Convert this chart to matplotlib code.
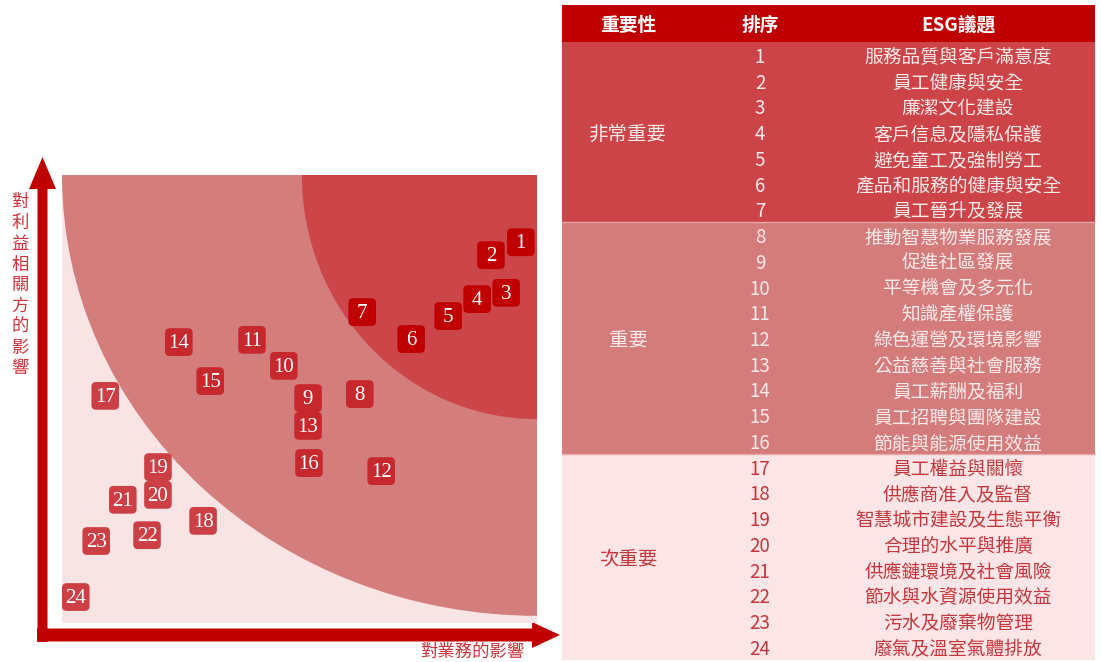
import matplotlib.pyplot as plt
from matplotlib.patches import Rectangle, Ellipse, FancyBboxPatch, FancyArrow

plt.rcParams['font.family'] = ['Noto Sans CJK TC', 'DejaVu Sans']

# 議題編號與位置 (對業務的影響, 對利益相關方的影響), 0-10 scale
ids = list(range(1, 25))
biz = [9.66, 9.03, 9.35, 8.74, 8.13, 7.35, 6.32, 6.27, 5.18, 4.67, 4.00, 6.72,
       5.18, 2.46, 3.12, 5.20, 0.91, 2.97, 2.02, 2.02, 1.28, 1.79, 0.72, 0.29]
stake = [8.50, 8.21, 7.37, 7.23, 6.85, 6.34, 6.94, 5.11, 5.02, 5.74, 6.32, 3.39,
         4.40, 6.27, 5.40, 3.57, 5.07, 2.28, 3.48, 2.86, 2.75, 1.96, 1.83, 0.58]

levels = ['非常重要', '重要', '次重要']
level_counts = [7, 9, 8]
topics = ['服務品質與客戶滿意度', '員工健康與安全', '廉潔文化建設', '客戶信息及隱私保護',
          '避免童工及強制勞工', '產品和服務的健康與安全', '員工晉升及發展',
          '推動智慧物業服務發展', '促進社區發展', '平等機會及多元化', '知識產權保護',
          '綠色運營及環境影響', '公益慈善與社會服務', '員工薪酬及福利', '員工招聘與團隊建設',
          '節能與能源使用效益',
          '員工權益與關懷', '供應商准入及監督', '智慧城市建設及生態平衡', '合理的水平與推廣',
          '供應鏈環境及社會風險', '節水與水資源使用效益', '污水及廢棄物管理', '廢氣及溫室氣體排放']
headers = ['重要性', '排序', 'ESG議題']

zone_colors = ['#CB4549', '#D47D7D', '#F9E4E5']
marker_colors = ['#C00000', '#C6282E', '#CC3F44']
table_colors = ['#CC4447', '#D47B7C', '#FBE5E6']
text_colors = ['#FBEAEA', '#FBEAEA', '#C4373C']
red = '#C00000'

fig = plt.figure(figsize=(11.01, 6.62), dpi=100)

# overlay in pixel coordinates for arrows, labels and table
ov = fig.add_axes([0, 0, 1, 1])
ov.set_xlim(0, 1101)
ov.set_ylim(662, 0)
ov.axis('off')

ov.add_patch(FancyArrow(42.5, 642, 0, -485, width=10, head_width=27, head_length=32,
                        length_includes_head=True, color=red, lw=0))
ov.add_patch(FancyArrow(37, 635, 523, 0, width=13, head_width=26, head_length=28,
                        length_includes_head=True, color=red, lw=0))

for i, ch in enumerate('對利益相關方的影響'):
    ov.text(20, 202 + i * 20.8, ch, ha='center', va='center', fontsize=12.5, color='#D0313A')
ov.text(472, 652, '對業務的影響', ha='center', va='center', fontsize=12.5, color='#D0313A')

# table
tx0, tx1 = 562, 1095
col_x = [628, 760, 958]
row_h = 25.74
top = 42
dy = 2.5
ov.add_patch(Rectangle((tx0, 5), tx1 - tx0, top - 5, color=red, lw=0))
for x, h in zip(col_x, headers):
    ov.text(x, 23 + dy, h, ha='center', va='center', fontsize=13.5, fontweight='bold', color='white')

y = top
k = 0
for lv, n, bg, tc in zip(levels, level_counts, table_colors, text_colors):
    ov.add_patch(Rectangle((tx0, y), tx1 - tx0, n * row_h, color=bg, lw=0))
    ov.text(col_x[0], y + n * row_h / 2 + dy, lv, ha='center', va='center', fontsize=14, color=tc)
    for j in range(n):
        cy = y + (j + 0.5) * row_h + dy
        ov.text(col_x[1], cy, str(ids[k]), ha='center', va='center', fontsize=13.5, color=tc)
        ov.text(col_x[2], cy, topics[k], ha='center', va='center', fontsize=13.5, color=tc)
        k += 1
    y += n * row_h
    if y < 640:
        ov.plot([tx0, tx1], [y, y], color='#E8A8A8', lw=1)

# materiality matrix
ax = fig.add_axes([62 / 1101, 39 / 662, 475 / 1101, 448 / 662])
ax.set_xlim(0, 10)
ax.set_ylim(0, 10)
ax.axis('off')
ax.add_patch(Rectangle((0, 0), 10, 10, color=zone_colors[2], lw=0))
ax.add_patch(Ellipse((10, 10), 20, 2 * 9.84, color=zone_colors[1], lw=0))
ax.add_patch(Ellipse((10, 10), 2 * 4.95, 2 * 5.45, color=zone_colors[0], lw=0))

w, h = 0.58, 0.62
k = 0
for n, c in zip(level_counts, marker_colors):
    for j in range(n):
        ax.add_patch(FancyBboxPatch((biz[k] - w / 2, stake[k] - h / 2), w, h,
                                    boxstyle='round,pad=0,rounding_size=0.1',
                                    color=c, lw=0, clip_on=False))
        ax.text(biz[k], stake[k] - 0.03, str(ids[k]), ha='center', va='center', fontsize=15,
                color='white', family='Liberation Serif', clip_on=False)
        k += 1

fig.savefig('out.png', dpi=100)
